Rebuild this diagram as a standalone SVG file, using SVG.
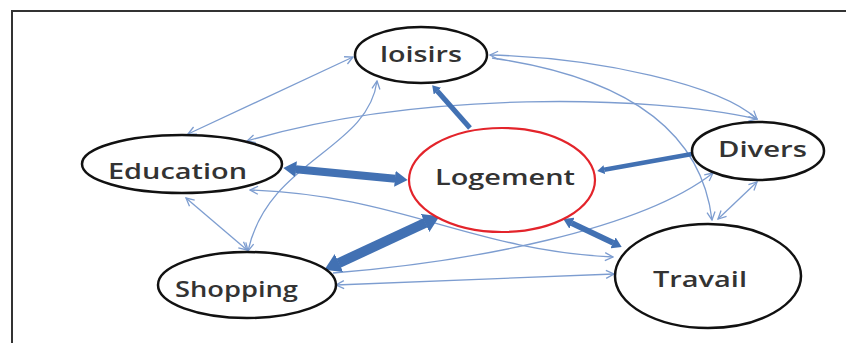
<svg xmlns="http://www.w3.org/2000/svg" width="846" height="343" viewBox="0 0 846 343">
<style>
.nd{fill:#fff;stroke:#111;stroke-width:2.5}
.home{fill:#fff;stroke:#e3242b;stroke-width:2.2}
.lb{font-family:"Open Sans","Liberation Sans",sans-serif;font-size:22px;font-weight:600;fill:#333}
.thin{fill:none;stroke:#7d9dd0;stroke-width:1.3}
.thick{fill:none;stroke:#4271b3}
</style>
<defs>
<marker id="va" markerUnits="userSpaceOnUse" markerWidth="10" markerHeight="10" viewBox="0 0 10 10" refX="9" refY="5" orient="auto-start-reverse">
<path d="M1,1 L9,5 L1,9" fill="none" stroke="#7d9dd0" stroke-width="1.3"/>
</marker>
<marker id="ba" markerUnits="strokeWidth" markerWidth="1.6" markerHeight="2" viewBox="0 0 16 20" refX="0.5" refY="10" orient="auto-start-reverse">
<path d="M0,0 L16,10 L0,20 z" fill="#4271b3"/>
</marker>
</defs>
<rect x="12" y="11" width="850" height="350" fill="#fff" stroke="#333" stroke-width="2"/>
<g id="connectors">
<path class="thin" d="M188,134 L353,57" marker-start="url(#va)" marker-end="url(#va)"/>
<path class="thin" d="M377,81 C368,150 268,160 248,251" marker-start="url(#va)" marker-end="url(#va)"/>
<path class="thin" d="M186,198 L247,250" marker-start="url(#va)" marker-end="url(#va)"/>
<path class="thin" d="M490,55 C600,58 720,85 757,119" marker-start="url(#va)" marker-end="url(#va)"/>
<path class="thin" d="M492,58 C610,75 700,120 712,220" marker-end="url(#va)"/>
<path class="thin" d="M757,119 C650,95 420,90 247,141" marker-start="url(#va)" marker-end="url(#va)"/>
<path class="thin" d="M250,190 C400,195 470,250 613,257" marker-start="url(#va)" marker-end="url(#va)"/>
<path class="thin" d="M333,273 C470,262 640,230 713,173" marker-end="url(#va)"/>
<path class="thin" d="M336,285 L614,274" marker-start="url(#va)" marker-end="url(#va)"/>
<path class="thin" d="M718,219 L757,182" marker-start="url(#va)" marker-end="url(#va)"/>
<path class="thick" stroke-width="5" d="M470,128 L437.3,91" marker-end="url(#ba)"/>
<path class="thick" stroke-width="8" d="M295.7,169.2 L395.3,178.8" marker-start="url(#ba)" marker-end="url(#ba)"/>
<path class="thick" stroke-width="4.5" d="M692,154 L604.1,169.7" marker-end="url(#ba)"/>
<path class="thick" stroke-width="10" d="M338.5,263.2 L425.5,222.8" marker-start="url(#ba)" marker-end="url(#ba)"/>
<path class="thick" stroke-width="6" d="M571.7,223.1 L613.3,242.9" marker-start="url(#ba)" marker-end="url(#ba)"/>
</g>
<g id="loisirs"><ellipse class="nd" cx="421" cy="55" rx="66" ry="28"/><text class="lb" x="380" y="62" textLength="82" lengthAdjust="spacingAndGlyphs">loisirs</text></g>
<g id="education"><ellipse class="nd" cx="182" cy="164" rx="100" ry="29"/><text class="lb" x="108" y="179" textLength="139" lengthAdjust="spacingAndGlyphs">Education</text></g>
<g id="logement"><ellipse class="home" cx="502" cy="180" rx="93" ry="52"/><text class="lb" x="435" y="185" textLength="140" lengthAdjust="spacingAndGlyphs">Logement</text></g>
<g id="divers"><ellipse class="nd" cx="758" cy="151" rx="66" ry="29"/><text class="lb" x="718" y="157" textLength="89" lengthAdjust="spacingAndGlyphs">Divers</text></g>
<g id="travail"><ellipse class="nd" cx="708" cy="276" rx="93" ry="52"/><text class="lb" x="653" y="287" textLength="94" lengthAdjust="spacingAndGlyphs">Travail</text></g>
<g id="shopping"><ellipse class="nd" cx="247" cy="285" rx="89" ry="33"/><text class="lb" x="175" y="297" textLength="123" lengthAdjust="spacingAndGlyphs">Shopping</text></g>
</svg>
